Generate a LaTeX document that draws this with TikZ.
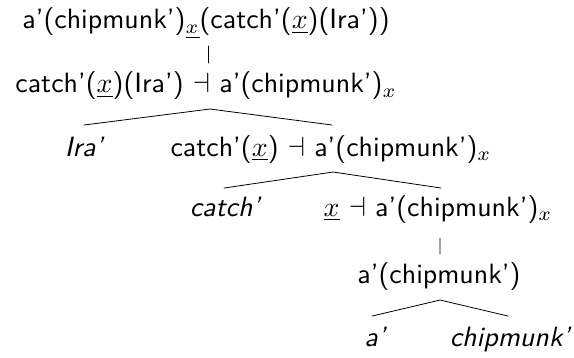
\documentclass[tikz,border=0pt]{standalone}
\usetikzlibrary{calc}
\tikzset{
  lbl/.style={anchor=base, inner sep=0pt, transform shape, font=\sffamily},
  leaf/.style={lbl, font=\sffamily\itshape},
  branch/.style={line width=0.8pt, line cap=round}
}
\newcommand{\ux}{$\underline{x}$}
\begin{document}
% the tree is laid out in units of 1/2.79pt and scaled up by 2.79
\begin{tikzpicture}[scale=2.79, x=0.35842pt, y=-0.35842pt]
  \useasboundingbox (0,0) rectangle (574,358);
  % nodes of the derivation
  \node[lbl]  (n1)  at (206,29)  {a'(chipmunk')$_{\underline{x}}$(catch'(\ux)(Ira'))};
  \node[lbl]  (n2)  at (206,93)  {catch'(\ux)(Ira') $\dashv$ a'(chipmunk')$_x$};
  \node[leaf] (ira) at (84,156)  {Ira'};
  \node[lbl]  (n3)  at (331,156) {catch'(\ux) $\dashv$ a'(chipmunk')$_x$};
  \node[leaf] (cat) at (225,216) {catch'};
  \node[lbl]  (n4)  at (438,216) {\ux{} $\dashv$ a'(chipmunk')$_x$};
  \node[lbl]  (n5)  at (439,283) {a'(chipmunk')};
  \node[leaf] (a)   at (375,346) {a'};
  \node[leaf] (chp) at (510,346) {chipmunk'};
  % unary steps
  \draw[branch] ($(n1.base)+(2,17)$) -- ($(n2.base)+(2,-30)$);
  \draw[branch] ($(n4.base)+(2,22)$) -- ($(n5.base)+(1,-29)$);
  % binary steps
  \draw[branch] ($(ira.base)+(0,-31)$) -- ($(n2.base)+(4,16)$) -- ($(n3.base)+(1,-31)$);
  \draw[branch] ($(cat.base)+(-1,-28)$) -- ($(n3.base)+(2,16)$) -- ($(n4.base)+(3,-28)$);
  \draw[branch] ($(a.base)+(-3,-30)$) -- ($(n5.base)+(1,17)$) -- ($(chp.base)+(-2,-30)$);
\end{tikzpicture}
\end{document}
